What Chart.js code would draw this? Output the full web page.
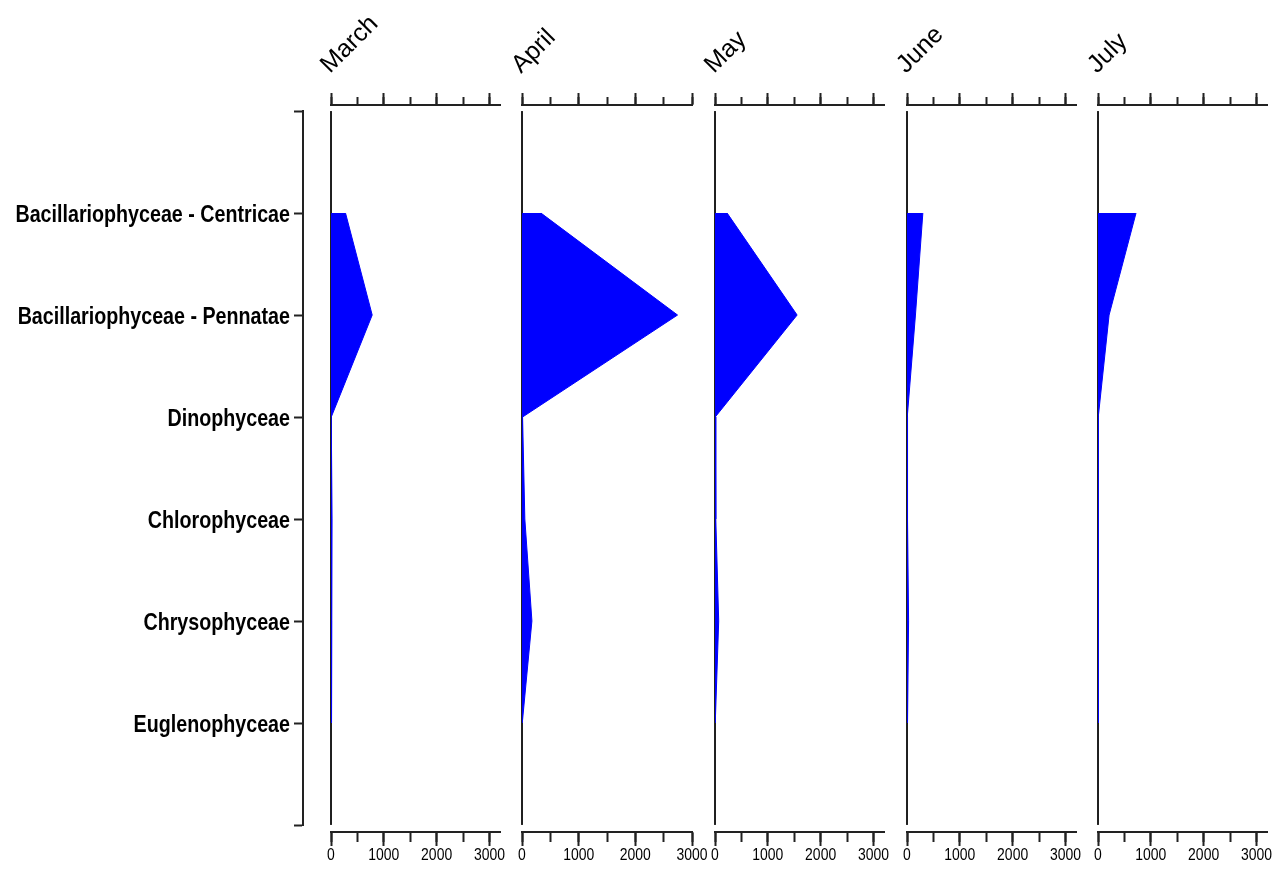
<!DOCTYPE html>
<html>
<head>
<meta charset="utf-8">
<script src="https://cdn.jsdelivr.net/npm/chart.js@4.4.0/dist/chart.umd.min.js"></script>
<style>
  body { margin: 0; background: #fff; width: 1274px; height: 872px; overflow: hidden; position: relative; }
  .box { position: absolute; top: 0; height: 872px; }
</style>
</head>
<body>
<div class="box" style="left:0;width:320px"><canvas id="cats"></canvas></div>
<script>
const categories = [
  'Bacillariophyceae - Centricae',
  'Bacillariophyceae - Pennatae',
  'Dinophyceae',
  'Chlorophyceae',
  'Chrysophyceae',
  'Euglenophyceae'
];
const months = ['March', 'April', 'May', 'June', 'July'];

const marchValues = [275, 780, 5, 20, 15, 10];
const aprilValues = [335, 2745, 10, 50, 175, 5];
const mayValues = [230, 1555, 5, 15, 70, 5];
const juneValues = [300, 160, 5, 10, 30, 10];
const julyValues = [720, 210, 5, 5, 5, 5];

const axisMax = [3200, 3000, 3200, 3200, 3200];
const labelStep = 1000;
const minorStep = 500;

const seriesValues = [marchValues, aprilValues, mayValues, juneValues, julyValues];

// where each panel sits on the page
const zeroX = [331, 522, 715, 907, 1098];
const panelWidth = [169, 170, 169, 169, 169];

const axisColor = '#222';
const NARROW = 0.82; // squeeze Liberation Sans to Arial Narrow widths

function drawNarrow(ctx, text, x, y, font, align) {
  ctx.save();
  ctx.font = font;
  ctx.translate(x, y);
  ctx.scale(NARROW, 1);
  ctx.textAlign = align;
  ctx.textBaseline = 'alphabetic';
  ctx.fillStyle = '#000';
  ctx.fillText(text, 0, 0);
  ctx.restore();
}

const panelText = name => ({
  id: 'panelText',
  afterDraw(chart) {
    const { ctx, chartArea } = chart;
    // month title, rotated
    ctx.save();
    ctx.translate(chartArea.left - 1, 74);
    ctx.rotate(-Math.PI / 4);
    ctx.font = "25px 'Liberation Sans', Arial, sans-serif";
    ctx.fillStyle = '#000';
    ctx.textBaseline = 'alphabetic';
    ctx.fillText(name, 0, 0);
    ctx.restore();
    // bottom tick labels
    const s = chart.scales.x;
    s.ticks.forEach(t => {
      drawNarrow(ctx, String(t.value), s.getPixelForValue(t.value), s.top + 28,
        "17px 'Liberation Sans', Arial, sans-serif", 'center');
    });
  }
});

function stepTicks(step, max) {
  return s => {
    const list = [];
    for (let v = 0; v <= max; v += step) list.push({ value: v });
    s.ticks = list;
  };
}

function xAxis(pos, step, len, weight, h, max) {
  return {
    type: 'linear', axis: 'x', position: pos, min: 0, max: max, weight: weight,
    afterBuildTicks: stepTicks(step, max),
    afterFit: s => { s.height = h; },
    ticks: { display: false },
    grid: { drawOnChartArea: false, drawTicks: true, tickLength: len, tickWidth: 2, tickColor: axisColor },
    border: { display: weight > 0, color: axisColor, width: 2 }
  };
}

function makePanel(i) {
  const wrap = document.createElement('div');
  wrap.className = 'box';
  wrap.style.left = (zeroX[i] - 20) + 'px';
  wrap.style.width = (panelWidth[i] + 20 + 24) + 'px';
  const cv = document.createElement('canvas');
  wrap.appendChild(cv);
  document.body.appendChild(wrap);
  const max = axisMax[i];

  new Chart(cv, {
    type: 'line',
    data: {
      datasets: [
        {
          data: seriesValues[i].map((v, k) => ({ x: v, y: k })),
          indexAxis: 'y', xAxisID: 'x', yAxisID: 'y',
          borderColor: '#0000ff', borderWidth: 1, backgroundColor: '#0000ff',
          fill: 'origin', pointRadius: 0, tension: 0
        },
        {
          data: [{ x: 0, y: -1 }, { x: 0, y: 6 }],
          xAxisID: 'x', yAxisID: 'y',
          borderColor: '#000', borderWidth: 1, pointRadius: 0, fill: false, clip: false
        }
      ]
    },
    options: {
      responsive: true,
      maintainAspectRatio: false,
      animation: false,
      layout: { padding: { left: 20, right: 24, top: 93, bottom: 0 } },
      plugins: { legend: { display: false }, tooltip: { enabled: false } },
      scales: {
        x: xAxis('bottom', labelStep, 14, 1, 40, max),
        xMinor: xAxis('bottom', minorStep, 10, 0, 0, max),
        xTop: xAxis('top', labelStep, 12, 1, 12, max),
        xTopMinor: xAxis('top', minorStep, 8, 0, 0, max),
        y: { type: 'linear', min: -1.06, max: 6.07, reverse: true, display: false }
      }
    },
    plugins: [panelText(months[i])]
  });
}

new Chart(document.getElementById('cats'), {
  type: 'line',
  data: { datasets: [] },
  options: {
    responsive: true,
    maintainAspectRatio: false,
    animation: false,
    layout: { padding: { left: 0, right: 10, top: 111, bottom: 47 } },
    plugins: { legend: { display: false }, tooltip: { enabled: false } },
    scales: {
      x: { display: false },
      y: {
        type: 'linear', position: 'left', min: -1, max: 6, reverse: true,
        afterBuildTicks: s => { s.ticks = [-1, 0, 1, 2, 3, 4, 5, 6].map(v => ({ value: v })); },
        afterFit: s => { s.width = 303; },
        ticks: { display: false },
        grid: { drawOnChartArea: false, tickLength: 9, tickWidth: 2, tickColor: axisColor },
        border: { color: axisColor, width: 2 }
      }
    }
  },
  plugins: [{
    id: 'catLabels',
    afterDraw(chart) {
      const s = chart.scales.y;
      categories.forEach((c, k) => {
        drawNarrow(chart.ctx, c, s.right - 13, s.getPixelForValue(k) + 8.6,
          "bold 24px 'Liberation Sans', Arial, sans-serif", 'right');
      });
    }
  }]
});

months.forEach((m, i) => makePanel(i));
</script>
</body>
</html>
